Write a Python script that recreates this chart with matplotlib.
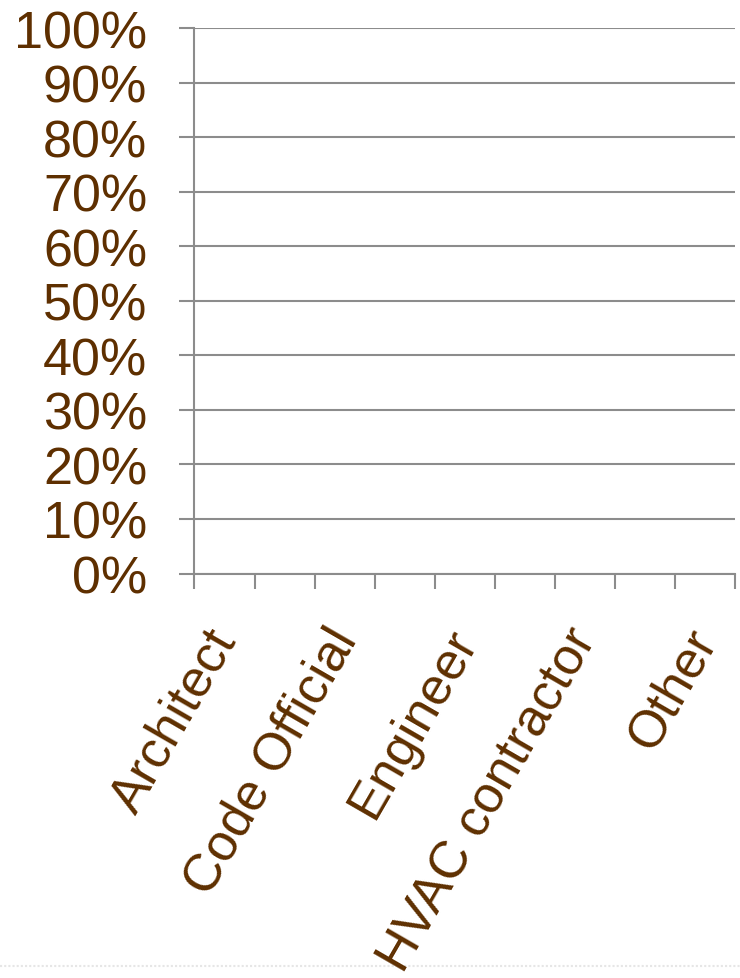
import matplotlib
matplotlib.use("Agg")
import matplotlib.pyplot as plt
from matplotlib.lines import Line2D
from matplotlib.ticker import FixedLocator, PercentFormatter
import matplotlib.transforms as mtransforms

categories = ["Architect", "", "Code Official", "", "Engineer", "", "HVAC contractor", "", "Other"]
values = [0, 0, 0, 0, 0, 0, 0, 0, 0]
yticks = [0, 10, 20, 30, 40, 50, 60, 70, 80, 90, 100]

brown = "#5E2F00"
grey = "#8C8C8C"
plt.rcParams["font.family"] = ["Liberation Sans", "DejaVu Sans"]

fig = plt.figure(figsize=(7.40, 9.79), dpi=100)
ax = fig.add_axes([194.5 / 740, 1 - 574.5 / 979, (735 - 194.5) / 740, (574.5 - 29) / 979])

x = list(range(len(categories)))
ax.bar(x, values, width=0.6, color="#7F4F1F")

ax.set_xlim(-0.5, len(categories) - 0.5)
ax.set_ylim(0, 100)
ax.set_yticks(yticks)
ax.yaxis.set_major_formatter(PercentFormatter(decimals=0))
ax.grid(axis="y", color=grey, linewidth=1.5)
ax.set_axisbelow(True)

for s in ["top", "right"]:
    ax.spines[s].set_visible(False)
for s in ["left", "bottom"]:
    ax.spines[s].set_color(grey)
    ax.spines[s].set_linewidth(1.5)

ax.tick_params(axis="y", length=11, width=1.5, color=grey, labelsize=37.5,
               labelcolor=brown, pad=23)

# boundary ticks (Excel style), labels on every other category
ax.xaxis.set_major_locator(FixedLocator([i - 0.5 for i in range(len(categories) + 1)]))
ax.xaxis.set_major_formatter(plt.NullFormatter())
ax.tick_params(axis="x", which="major", length=11, width=1.5, color=grey)
label_pos = [i for i, c in enumerate(categories) if c]
ax.xaxis.set_minor_locator(FixedLocator(label_pos))
ax.set_xticklabels([categories[i] for i in label_pos], minor=True)
ax.tick_params(axis="x", which="minor", length=0, labelsize=37.5, labelcolor=brown, pad=42)
shift = mtransforms.ScaledTranslation(1 / 100, 0, fig.dpi_scale_trans)
for lab in ax.get_xticklabels(minor=True):
    lab.set_rotation(60)
    lab.set_ha("right")
    lab.set_va("center")
    lab.set_rotation_mode("anchor")
    lab.set_transform(lab.get_transform() + shift)

fig.add_artist(Line2D([0, 1], [1 - 967 / 979, 1 - 967 / 979], transform=fig.transFigure,
                      color="#E6E6E6", linewidth=1.5, linestyle=(0, (1, 1)), zorder=0))

fig.savefig("out.png", dpi=100, facecolor="white")
